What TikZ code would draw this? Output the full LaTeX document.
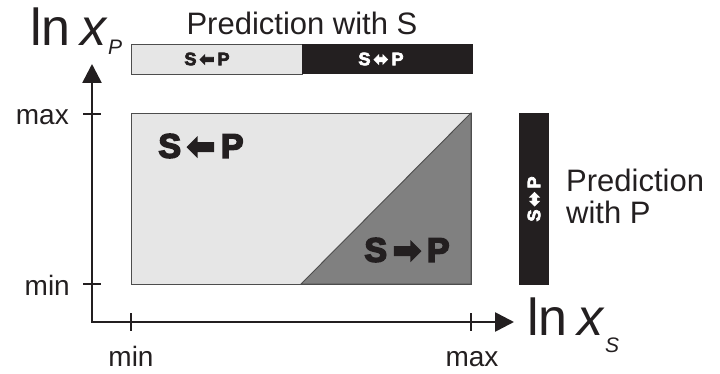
\documentclass[tikz,border=0pt]{standalone}
\usepackage{fontspec}
\setmainfont{Liberation Sans}
\newfontfamily\arrowfont{DejaVu Sans}
\usetikzlibrary{arrows.meta}
\definecolor{cInk}{HTML}{231F20}
\definecolor{cLight}{HTML}{E6E6E6}
\definecolor{cDark}{HTML}{808080}
\definecolor{cEdge}{HTML}{4D4D4D}
\newcommand{\lftarr}{{\arrowfont\bfseries\symbol{"2B05}}}
\newcommand{\rgtarr}{{\arrowfont\bfseries\symbol{"27A1}}}
\newcommand{\botharr}{{\arrowfont\bfseries\symbol{"2B0C}}}
% heavier letters: fill and stroke the glyphs (stroke width, stroke colour)
\newcommand{\heavy}[3]{\special{pdf:literal direct 2 Tr #1 w #2 RG}#3\special{pdf:literal direct 0 Tr}}
\tikzset{
  axis/.style={line width=2.6pt, draw=cInk,
               {Triangle[length=19pt,width=19pt]}-{Triangle[length=19pt,width=19pt]}},
  tick/.style={line width=2.6pt, draw=cInk},
  region/.style={draw=cEdge, line width=0.9pt},
  lbl/.style={font=\fontsize{28}{28}\selectfont, text=cInk, inner sep=0pt},
  big/.style={font=\fontsize{31}{31}\selectfont, text=cInk, inner sep=0pt},
  tag/.style={font=\fontsize{34}{34}\selectfont\bfseries, text=cInk, inner sep=0pt},
  bartag/.style={font=\fontsize{18}{18}\selectfont\bfseries, text=white, inner sep=0pt},
}

\begin{document}
\begin{tikzpicture}[x=1pt,y=-1pt]
  \useasboundingbox (0,0) rectangle (720,374);
  % prediction region
  \fill[cLight] (131,113) rectangle (471,284);
  \filldraw[fill=cDark, region] (301,284) -- (471,113) -- (471,284) -- cycle;
  \draw[region] (131,113) rectangle (471,284);
  % bars
  \draw[region, fill=cLight] (131,44) rectangle (302,74);
  \fill[cInk] (302,44) rectangle (473,74);
  \fill[cInk] (519,113) rectangle (549,285);
  % axes
  \coordinate (orig) at (92,322);
  \coordinate (xtip) at (514,322);
  \coordinate (ytip) at (92,64);
  \draw[axis] (xtip) -- (orig) -- (ytip);
  \draw[tick] (83,114) -- (101,114);
  \draw[tick] (83,284) -- (101,284);
  \draw[tick] (131,313) -- (131,331);
  \draw[tick] (471,313) -- (471,331);
  \node[lbl, anchor=base east] (ymax) at (69,125) {max};
  \node[lbl, anchor=base east] (ymin) at (70,295) {min};
  \node[lbl, anchor=base] (xmin) at (131,366) {min};
  \node[lbl, anchor=base] (xmax) at (472,366) {max};
  \node[anchor=base west, inner sep=0pt, text=cInk] (ylab) at (30,46)
    {\fontsize{52}{52}\selectfont ln\hspace{10pt}\textit{x}\raisebox{-9pt}{\fontsize{21}{21}\selectfont\textit{P}}};
  \node[anchor=base west, inner sep=0pt, text=cInk] (xlab) at (527,335)
    {\fontsize{52}{52}\selectfont ln\hspace{10pt}\textit{x}\raisebox{-17pt}{\fontsize{21}{21}\selectfont\textit{S}}};
  % labels
  \node[big, anchor=base] (predS) at (302,35) {Prediction with S};
  \node[big, anchor=base west] (predP) at (566,192) {Prediction};
  \node[big, anchor=base west] (predPb) at (566,224) {with P};
  \node[tag] (inhib) at (201,146) {\heavy{1.6}{0.137 0.122 0.125}{S\,\lftarr\,P}};
  \node[tag] (activ) at (407,250) {\heavy{1.6}{0.137 0.122 0.125}{S\,\rgtarr\,P}};
  \node[bartag, text=cInk] (barL) at (207,59) {\heavy{0.7}{0.137 0.122 0.125}{S\,\lftarr\,P}};
  \node[bartag] (barR) at (381,59) {\heavy{0.7}{1 1 1}{S\,\botharr\,P}};
  \node[bartag, rotate=90] (barV) at (534,199) {\heavy{0.7}{1 1 1}{S\,\botharr\,P}};
\end{tikzpicture}
\end{document}
